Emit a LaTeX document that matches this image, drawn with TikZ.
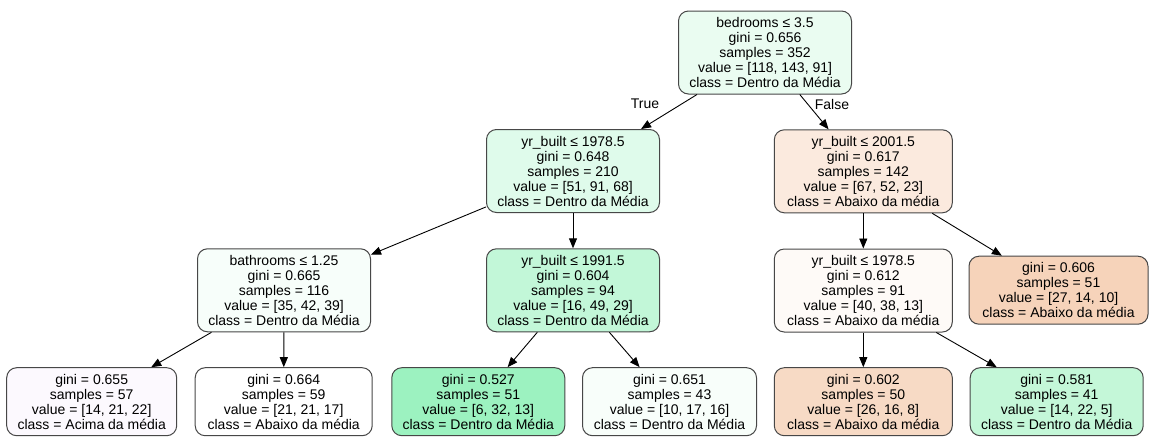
\documentclass[tikz,border=0pt]{standalone}
\usepackage{fontspec}
\setmainfont{Liberation Sans}
\usetikzlibrary{arrows.meta}
\definecolor{cRoot}{HTML}{EAFCF1}
\definecolor{cLA}{HTML}{DFFBEB}
\definecolor{cRA}{HTML}{FBEADE}
\definecolor{cBath}{HTML}{F7FEFA}
\definecolor{cYB}{HTML}{C2F7D8}
\definecolor{cYR}{HTML}{FEFAF7}
\definecolor{cL606}{HTML}{F6D3BA}
\definecolor{cL655}{HTML}{FCF9FE}
\definecolor{cL664}{HTML}{FFFFFF}
\definecolor{cL527}{HTML}{9CF2C0}
\definecolor{cL651}{HTML}{F8FEFA}
\definecolor{cL602}{HTML}{F7DAC5}
\definecolor{cL581}{HTML}{C4F7D8}
\begin{document}
\begin{tikzpicture}[x=1pt,y=-1pt,
  tn/.style={draw=black!72, line width=1pt, rounded corners=10pt, align=center,
    font=\fontsize{14}{15}\selectfont, inner sep=0pt, minimum height=83pt},
  leafn/.style={tn, minimum height=68pt},
  edge/.style={-{Triangle[length=10pt,width=8pt]}, line width=0.9pt, black},
  lbl/.style={font=\fontsize{14}{15}\selectfont}]
\useasboundingbox (0,0) rectangle (1168,445);
\fill[white] (0,0) rectangle (1168,445);

\node[tn, fill=cRoot, minimum width=173pt] (root) at (765,52.5)
  {bedrooms ≤ 3.5\\gini = 0.656\\samples = 352\\value = [118, 143, 91]\\class = Dentro da Média};

\node[tn, fill=cLA, minimum width=173pt] (la) at (573,171)
  {yr\_built ≤ 1978.5\\gini = 0.648\\samples = 210\\value = [51, 91, 68]\\class = Dentro da Média};
\node[tn, fill=cRA, minimum width=178pt] (ra) at (863.3,171.3)
  {yr\_built ≤ 2001.5\\gini = 0.617\\samples = 142\\value = [67, 52, 23]\\class = Abaixo da média};

\node[tn, fill=cBath, minimum width=173pt] (bath) at (284,290.3)
  {bathrooms ≤ 1.25\\gini = 0.665\\samples = 116\\value = [35, 42, 39]\\class = Dentro da Média};
\node[tn, fill=cYB, minimum width=173pt] (yb) at (573,290.3)
  {yr\_built ≤ 1991.5\\gini = 0.604\\samples = 94\\value = [16, 49, 29]\\class = Dentro da Média};
\node[tn, fill=cYR, minimum width=178pt] (yr) at (863.3,290.5)
  {yr\_built ≤ 1978.5\\gini = 0.612\\samples = 91\\value = [40, 38, 13]\\class = Abaixo da média};
\node[leafn, fill=cL606, minimum width=179pt] (l606) at (1058.5,290.2)
  {gini = 0.606\\samples = 51\\value = [27, 14, 10]\\class = Abaixo da média};

\node[leafn, fill=cL655, minimum width=170pt] (l655) at (91.7,401.7)
  {gini = 0.655\\samples = 57\\value = [14, 21, 22]\\class = Acima da média};
\node[leafn, fill=cL664, minimum width=177pt] (l664) at (283.7,401.7)
  {gini = 0.664\\samples = 59\\value = [21, 21, 17]\\class = Abaixo da média};
\node[leafn, fill=cL527, minimum width=173pt] (l527) at (478.3,401.7)
  {gini = 0.527\\samples = 51\\value = [6, 32, 13]\\class = Dentro da Média};
\node[leafn, fill=cL651, minimum width=174pt] (l651) at (669.5,401.7)
  {gini = 0.651\\samples = 43\\value = [10, 17, 16]\\class = Dentro da Média};
\node[leafn, fill=cL602, minimum width=178pt] (l602) at (863.3,401.7)
  {gini = 0.602\\samples = 50\\value = [26, 16, 8]\\class = Abaixo da média};
\node[leafn, fill=cL581, minimum width=173pt] (l581) at (1056.7,401.7)
  {gini = 0.581\\samples = 41\\value = [14, 22, 5]\\class = Dentro da Média};

\draw[edge] (root) -- (la);
\draw[edge] (root) -- (ra);
\draw[edge] (la) -- (bath);
\draw[edge] (la) -- (yb);
\draw[edge] (ra) -- (yr);
\draw[edge] (ra) -- (l606);
\draw[edge] (bath) -- (l655);
\draw[edge] (bath) -- (l664);
\draw[edge] (yb) -- (l527);
\draw[edge] (yb) -- (l651);
\draw[edge] (yr) -- (l602);
\draw[edge] (yr) -- (l581);

\node[lbl] (ltrue) at (645,104) {True};
\node[lbl] (lfalse) at (832,104) {False};
\end{tikzpicture}
\end{document}
